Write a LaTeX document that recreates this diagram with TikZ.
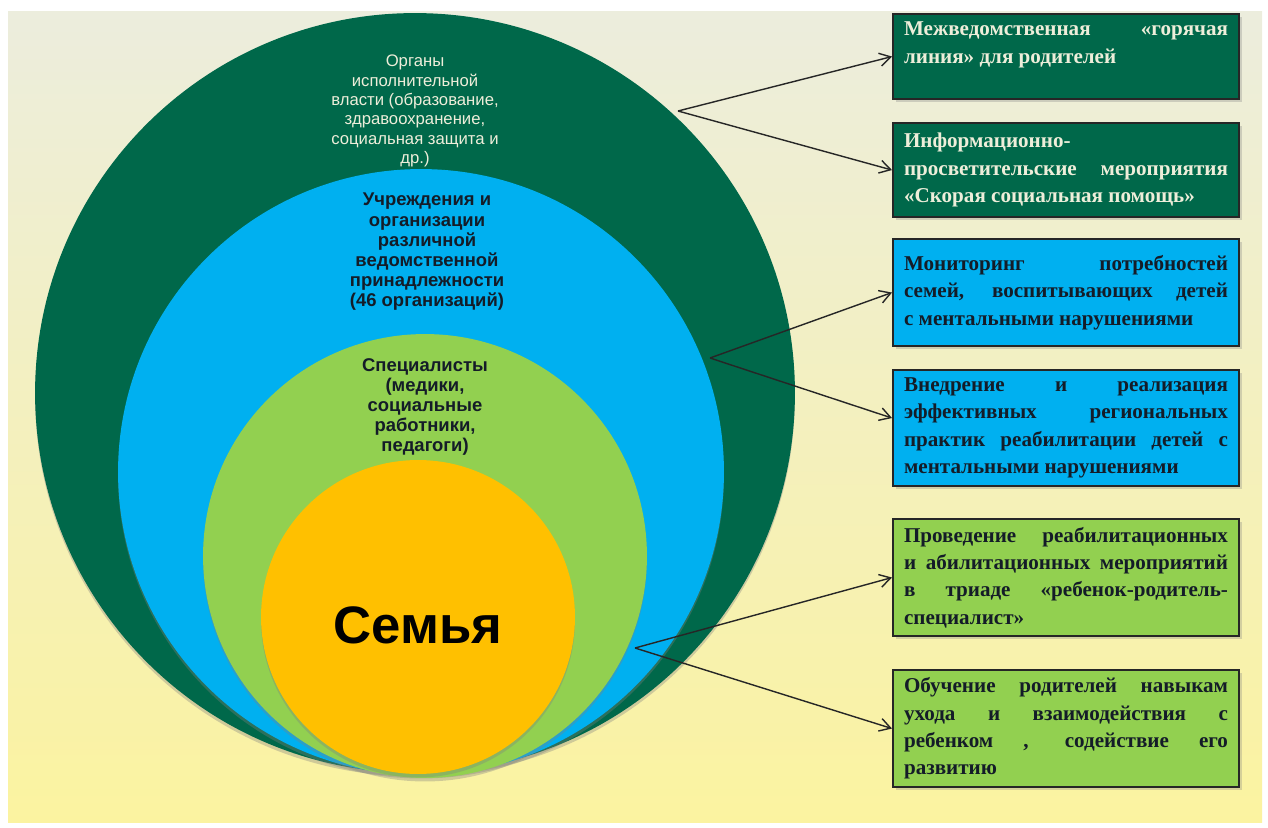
\documentclass[tikz,border=0pt]{standalone}
\usepackage{fontspec}
\setmainfont{Liberation Serif}
\setsansfont{Liberation Sans}
\usetikzlibrary{positioning,shadows,arrows.meta}
\definecolor{forest}{RGB}{0,104,74}
\definecolor{sky}{RGB}{0,176,240}
\definecolor{leaf}{RGB}{146,208,80}
\definecolor{gold}{RGB}{255,192,0}
\definecolor{bgtop}{RGB}{236,237,221}
\definecolor{bgbot}{RGB}{251,243,160}
\definecolor{pale}{RGB}{238,238,218}
\definecolor{ink}{RGB}{20,28,40}
\tolerance=10000
\hyphenpenalty=10000
\tikzset{%
	ring/.style    	= {circle, inner sep=0pt, drop shadow={shadow xshift=0pt, shadow yshift=-2pt, opacity=0.35}}, % Nested circle
	ringtext/.style	= {align=center, font=\sffamily\bfseries\fontsize{10.5}{11.5}\selectfont, text=ink},
	infobox/.style 	= {draw=black!85, line width=1.2pt, rectangle, text width=6.48cm, inner xsep=0.22cm,
						align=justify, font=\bfseries\fontsize{12}{15.6}\selectfont, anchor=north west,
						drop shadow={shadow xshift=1.5pt, shadow yshift=-1.5pt, opacity=0.3}}, % Action box
	darkbox/.style 	= {infobox, fill=forest, text=pale},
	bluebox/.style 	= {infobox, fill=sky, text=ink},
	greenbox/.style	= {infobox, fill=leaf, text=ink},
	src/.style     	= {coordinate} % Arrow start
}

\begin{document}
\begin{tikzpicture}[x=0.02cm, y=-0.02cm, >={Straight Barb[length=0.22cm,width=0.26cm]}]
	\useasboundingbox (0,0) rectangle (1268,828);
	\fill[top color=bgtop, bottom color=bgbot] (8,12) rectangle (1262,822);

	% Drawing the circles
	\node[ring, fill=forest, minimum size=15.2cm] (power) at (415,393) {};
	\node[ring, fill=sky, minimum size=12.12cm] (orgs) at (421,472) {};
	\node[ring, fill=leaf, minimum size=8.88cm] (experts) at (425,556) {};
	\node[ring, fill=gold, minimum size=6.28cm] (family) at (418,617) {};

	% Circle labels
	\node[ringtext, font=\sffamily\fontsize{9.5}{11}\selectfont, text=pale] (powertxt) at (415,111)
		{Органы\\исполнительной\\власти (образование,\\здравоохранение,\\социальная защита и\\др.)};
	\node[ringtext] (orgstxt) at (427,252)
		{Учреждения и\\организации\\различной\\ведомственной\\принадлежности\\(46 организаций)};
	\node[ringtext] (expertstxt) at (425,407)
		{Специалисты\\(медики,\\социальные\\работники,\\педагоги)};
	\node[font=\sffamily\bfseries\fontsize{30}{34}\selectfont, text=black] (familytxt) at (418,625) {Семья};

	% Drawing the boxes
	\node[darkbox, minimum height=1.70cm, text depth=1.1cm] (hotline) at (892,13)
		{Межведомственная «горячая\linebreak линия» для родителей};
	\node[darkbox, minimum height=1.88cm] (events) at (892,122)
		{Информационно-\newline просветительские мероприятия\linebreak «Скорая социальная помощь»};
	\node[bluebox, minimum height=2.14cm] (monitor) at (892,238)
		{Мониторинг потребностей\linebreak семей, воспитывающих детей\linebreak с ментальными нарушениями};
	\node[bluebox, minimum height=2.32cm] (practice) at (892,369)
		{Внедрение и реализация\linebreak эффективных региональных\linebreak практик реабилитации детей с\linebreak ментальными нарушениями};
	\node[greenbox, minimum height=2.34cm] (rehab) at (892,518)
		{Проведение реабилитационных\linebreak и абилитационных мероприятий\linebreak в триаде «ребенок-родитель-\linebreak специалист»};
	\node[greenbox, minimum height=2.34cm] (training) at (892,669)
		{Обучение родителей навыкам\linebreak ухода и взаимодействия с\linebreak ребенком , содействие его\linebreak развитию};

	% Drawing the arrows
	\coordinate[src] (s1) at (678,111);
	\coordinate[src] (s2) at (710,358);
	\coordinate[src] (s3) at (635,648);
	\draw[->, line width=0.8pt, black!85] (s1) -- (hotline.west);
	\draw[->, line width=0.8pt, black!85] (s1) -- (events.west);
	\draw[->, line width=0.8pt, black!85] (s2) -- (monitor.west);
	\draw[->, line width=0.8pt, black!85] (s2) -- ([yshift=0.2cm]practice.west);
	\draw[->, line width=0.8pt, black!85] (s3) -- (rehab.west);
	\draw[->, line width=0.8pt, black!85] (s3) -- (training.west);
\end{tikzpicture}
\end{document}
